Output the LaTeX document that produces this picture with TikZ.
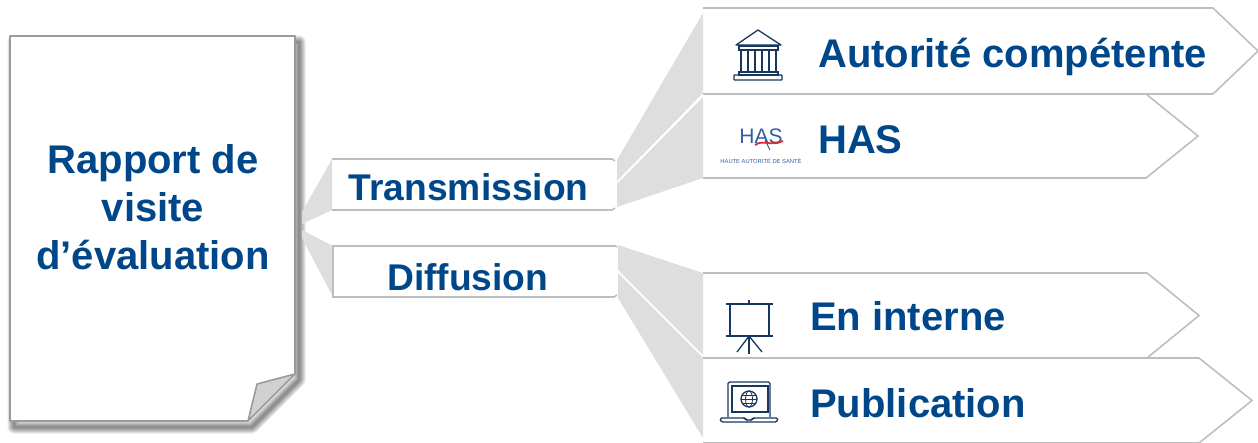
\documentclass[tikz,border=0pt]{standalone}
\usepackage{fontspec}
\setmainfont{Liberation Sans}
\definecolor{hasblue}{RGB}{0,71,138}
\definecolor{iconnavy}{RGB}{23,55,94}
\definecolor{logoblue}{RGB}{52,92,160}
\definecolor{logored}{RGB}{222,40,50}
\definecolor{fangray}{RGB}{222,222,222}
\definecolor{edgegray}{RGB}{190,190,190}
\definecolor{pagegray}{RGB}{155,155,155}
\tikzset{
    title/.style={text=hasblue, font=\bfseries\fontsize{40}{48}\selectfont, inner sep=0pt, anchor=base west},
    subtitle/.style={text=hasblue, font=\bfseries\fontsize{37.2}{44}\selectfont, inner sep=0pt, anchor=base west},
    slab/.style={anchor=north west, inner sep=0pt, outer sep=0pt},
    fan/.style={fill=fangray, draw=none},
    edge/.style={draw=edgegray, line width=1.6pt, line join=miter},
    icon/.style={draw=iconnavy, line width=1.3pt}
}
\begin{document}
\begin{tikzpicture}[x=1pt, y=-1pt]
    \useasboundingbox (0,0) rectangle (1258,442);

    % boxes
    \node[slab, minimum width=285pt, minimum height=385pt] (page) at (10,36) {};
    \node[slab, minimum width=283pt, minimum height=51pt] (transmission) at (332,159) {};
    \node[slab, minimum width=284pt, minimum height=51pt] (diffusion) at (333,246) {};
    \node[slab, minimum width=510pt, minimum height=86pt] (autorite) at (703,8) {};
    \node[slab, minimum width=443pt, minimum height=84pt] (has) at (703,94) {};
    \node[slab, minimum width=444pt, minimum height=85pt] (interne) at (703,273) {};
    \node[slab, minimum width=496pt, minimum height=85pt] (publication) at (703,358) {};

    \coordinate (fold) at (257,384);
    \coordinate (foldtop) at (295,374);
    \coordinate (foldbottom) at (248,421);

    % shadow of the page
    \foreach \w in {1,3,...,13}
        \draw[black, opacity=0.085, line width=\w pt, line join=round]
            ([shift={(4pt,-6pt)}]page.north west) -- ([shift={(4pt,-6pt)}]page.north east)
            -- ([shift={(4pt,-6pt)}]foldtop) -- ([shift={(4pt,-6pt)}]foldbottom)
            -- ([shift={(4pt,-6pt)}]page.south west) -- cycle;
    \fill[white] (page.north west) -- (page.north east) -- (foldtop) -- (foldbottom) -- (page.south west) -- cycle;
    \draw[pagegray, line width=1.6pt, line join=round] (foldtop) -- (page.north east) -- (page.north west) -- (page.south west) -- (foldbottom);
    \draw[pagegray, line width=1.6pt, fill=black!18, line join=round] (foldbottom) -- (fold) -- (foldtop) -- cycle;

    % fans
    \fill[fan] (302,212) -- (transmission.north west) -- (transmission.south west) -- (302,224) -- cycle;
    \fill[fan] (302,230) -- (diffusion.north west) -- (diffusion.south west) -- (302,238) -- cycle;
    \fill[fan] (617,160) -- (703,13) -- (703,93) -- (617,181) -- cycle;
    \fill[fan] (617,184) -- (703,97) -- (703,178) -- (617,207) -- cycle;
    \fill[fan] (618,245) -- (703,273) -- (703,355) -- (618,270) -- cycle;
    \fill[fan] (618,273) -- (703,358) -- (703,438) -- (618,298) -- cycle;

    % arrow shaped boxes
    \foreach \n/\t in {has/52, interne/52, publication/53, autorite/45}
        \draw[edge] (\n.north west) -- (\n.north east) -- ([xshift=\t pt]\n.east) -- (\n.south east) -- (\n.south west);

    \draw[edge] (transmission.north west) -- ([xshift=-3pt]transmission.north east) -- ++(3,2);
    \draw[edge] (transmission.south west) -- ([xshift=-3pt]transmission.south east) -- ++(3,-2);
    \draw[edge] ([yshift=-1pt]diffusion.north east) -- ([xshift=-2pt]diffusion.north east) -- (diffusion.north west) -- (diffusion.south west) -- ([xshift=-3pt]diffusion.south east) -- ++(3,-2);

    % texts
    \node[title, anchor=base, align=center] (rapporttext) at (153,269) {Rapport de\\visite\\d’évaluation};
    \node[subtitle] (transmissiontext) at (348.5,200) {Transmission};
    \node[subtitle] (diffusiontext) at (387,290) {Diffusion};
    \node[title] (autoritetext) at (818,67.5) {Autorité compétente};
    \node[title] (hastext) at (818,153) {HAS};
    \node[title] (internetext) at (810,330) {En interne};
    \node[title] (publicationtext) at (810,417) {Publication};

    % temple
    \draw[icon, line join=round] (736,45) -- (758,30) -- (781,45) -- cycle;
    \draw[icon] (739,46) rectangle (778,50);
    \foreach \x in {741,748,755,762,769,776}
        \draw[icon] (\x,50) -- (\x,72);
    \draw[icon] (739,72) rectangle (778,75);
    \draw[icon, rounded corners=0.6pt] (734,75) rectangle (782,80);

    % logo
    \node[text=logoblue, font=\fontsize{21}{21}\selectfont, inner sep=0pt, anchor=base] (logotext) at (761,143) {HAS};
    \draw[logoblue, line width=1pt] (765,140) -- (770,150);
    \draw[logored, line width=1.8pt] (755,145) .. controls (763,139) and (771,147) .. (783,141);
    \node[text=logoblue, font=\fontsize{5.8}{7}\selectfont, inner sep=0pt] (logosub) at (761,161) {HAUTE AUTORITÉ DE SANTÉ};

    % screen
    \draw[icon] (749,300) -- (749,304);
    \draw[icon] (726,304) -- (773,304);
    \draw[icon] (730,304) -- (730,336);
    \draw[icon] (769,304) -- (769,336);
    \draw[icon] (726,336) -- (773,336);
    \draw[icon] (749,336) -- (737,352);
    \draw[icon] (749,336) -- (762,352);
    \draw[icon] (749,336) -- (749,354);

    % laptop
    \draw[icon, rounded corners=1.5pt] (728,417) -- (728,382) -- (770,382) -- (770,417);
    \draw[icon] (732,386) rectangle (768,412);
    \draw[icon] (749,399) circle (8);
    \draw[icon, line width=0.8pt] (749,399) ellipse (3.5 and 8);
    \draw[icon, line width=0.8pt] (741,399) -- (757,399);
    \draw[icon, line width=0.8pt] (742,395) -- (756,395);
    \draw[icon, line width=0.8pt] (742,403) -- (756,403);
    \draw[icon, rounded corners=1.5pt] (720,418) -- (745,418) -- (746,420) -- (752,420) -- (753,418) -- (778,418) -- (777,422) -- (721,422) -- cycle;
\end{tikzpicture}
\end{document}
